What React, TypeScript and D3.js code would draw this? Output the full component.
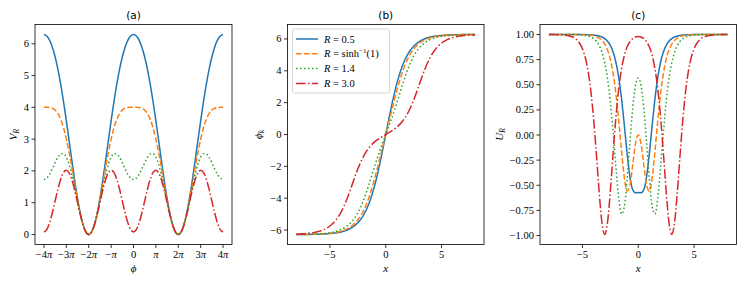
import * as d3 from "d3";

// sample grids: phi in units of pi, x for the kink and its stability potential
const phiPi = d3.range(-4, 4.0001, 0.125);
const xKink = d3.range(-8, 8.0001, 0.5);
const xStab = d3.range(-8, 8.0001, 0.25);

const colors = ["#1f77b4", "#ff7f0e", "#2ca02c", "#d62728"];
const dashes = ["", "5.55 2.4", "1.5 2.475", "9.6 2.4 1.5 2.4"];
const legendValues = ["0.5", "sinh", "1.4", "3.0"];

// (a) V_R(phi)
const vR05 = [
  6.292, 6.247, 6.115, 5.893, 5.584, 5.189, 4.714, 4.17, 3.573, 2.943, 2.307, 1.693, 1.135, 0.662, 0.302, 0.077, 0,
  0.077, 0.302, 0.662, 1.135, 1.693, 2.307, 2.943, 3.573, 4.17, 4.714, 5.189, 5.584, 5.893, 6.115, 6.247, 6.292,
  6.247, 6.115, 5.893, 5.584, 5.189, 4.714, 4.17, 3.573, 2.943, 2.307, 1.693, 1.135, 0.662, 0.302, 0.077, 0,
  0.077, 0.302, 0.662, 1.135, 1.693, 2.307, 2.943, 3.573, 4.17, 4.714, 5.189, 5.584, 5.893, 6.115, 6.247, 6.292,
];
const vRs1 = [
  4.0, 4.0, 3.994, 3.972, 3.914, 3.802, 3.619, 3.352, 3.0, 2.572, 2.088, 1.58, 1.086, 0.646, 0.299, 0.077, 0,
  0.077, 0.299, 0.646, 1.086, 1.58, 2.088, 2.572, 3.0, 3.352, 3.619, 3.802, 3.914, 3.972, 3.994, 4.0, 4.0,
  4.0, 3.994, 3.972, 3.914, 3.802, 3.619, 3.352, 3.0, 2.572, 2.088, 1.58, 1.086, 0.646, 0.299, 0.077, 0,
  0.077, 0.299, 0.646, 1.086, 1.58, 2.088, 2.572, 3.0, 3.352, 3.619, 3.802, 3.914, 3.972, 3.994, 4.0, 4.0,
];
const vR14 = [
  1.729, 1.772, 1.893, 2.067, 2.26, 2.429, 2.534, 2.541, 2.432, 2.204, 1.872, 1.468, 1.037, 0.63, 0.295, 0.076, 0,
  0.076, 0.295, 0.63, 1.037, 1.468, 1.872, 2.204, 2.432, 2.541, 2.534, 2.429, 2.26, 2.067, 1.893, 1.772, 1.729,
  1.772, 1.893, 2.067, 2.26, 2.429, 2.534, 2.541, 2.432, 2.204, 1.872, 1.468, 1.037, 0.63, 0.295, 0.076, 0,
  0.076, 0.295, 0.63, 1.037, 1.468, 1.872, 2.204, 2.432, 2.541, 2.534, 2.429, 2.26, 2.067, 1.893, 1.772, 1.729,
];
const vR3 = [
  0.079, 0.154, 0.366, 0.684, 1.058, 1.43, 1.745, 1.952, 2.02, 1.937, 1.715, 1.387, 1.002, 0.618, 0.293, 0.076, 0,
  0.076, 0.293, 0.618, 1.002, 1.387, 1.715, 1.937, 2.02, 1.952, 1.745, 1.43, 1.058, 0.684, 0.366, 0.154, 0.079,
  0.154, 0.366, 0.684, 1.058, 1.43, 1.745, 1.952, 2.02, 1.937, 1.715, 1.387, 1.002, 0.618, 0.293, 0.076, 0,
  0.076, 0.293, 0.618, 1.002, 1.387, 1.715, 1.937, 2.02, 1.952, 1.745, 1.43, 1.058, 0.684, 0.366, 0.154, 0.079,
];

// (b) kink profiles phi_k(x)
const pR05 = [
  -6.28, -6.278, -6.275, -6.27, -6.261, -6.246, -6.222, -6.183, -6.118, -6.011, -5.835, -5.546, -5.077, -4.335, -3.224, -1.731,
  0, 1.731, 3.224, 4.335, 5.077, 5.546, 5.835, 6.011, 6.118, 6.183, 6.222, 6.246, 6.261, 6.27, 6.275, 6.278, 6.28,
];
const pRs1 = [
  -6.279, -6.277, -6.273, -6.266, -6.255, -6.237, -6.207, -6.158, -6.076, -5.942, -5.722, -5.365, -4.796, -3.938, -2.773, -1.412,
  0, 1.412, 2.773, 3.938, 4.796, 5.365, 5.722, 5.942, 6.076, 6.158, 6.207, 6.237, 6.255, 6.266, 6.273, 6.277, 6.279,
];
const pR14 = [
  -6.277, -6.274, -6.268, -6.257, -6.241, -6.213, -6.167, -6.092, -5.969, -5.766, -5.437, -4.917, -4.142, -3.121, -2.0, -0.951,
  0, 0.951, 2.0, 3.121, 4.142, 4.917, 5.437, 5.766, 5.969, 6.092, 6.167, 6.213, 6.241, 6.257, 6.268, 6.274, 6.277,
];
const pR3 = [
  -6.256, -6.239, -6.21, -6.162, -6.084, -5.955, -5.744, -5.403, -4.869, -4.096, -3.132, -2.164, -1.383, -0.834, -0.465, -0.207,
  0, 0.207, 0.465, 0.834, 1.383, 2.164, 3.132, 4.096, 4.869, 5.403, 5.744, 5.955, 6.084, 6.162, 6.21, 6.239, 6.256,
];

// (c) stability potential U_R(x)
const uR05 = [
  1, 1, 1, 1, 1, 1, 1, 1, 1, 1, 1, 1, 0.999, 0.999, 0.998, 0.997, 0.994, 0.991, 0.985, 0.975, 0.959, 0.933, 0.892, 0.826,
  0.724, 0.573, 0.363, 0.1, -0.18, -0.414, -0.544, -0.575,
  -0.573,
  -0.575, -0.544, -0.414, -0.18, 0.1, 0.363, 0.573, 0.724, 0.826, 0.892, 0.933, 0.959, 0.975, 0.985, 0.991, 0.994, 0.997,
  0.998, 0.999, 0.999, 1, 1, 1, 1, 1, 1, 1, 1, 1, 1, 1, 1,
];
const uRs1 = [
  1, 1, 1, 1, 1, 1, 1, 1, 1, 1, 0.999, 0.999, 0.998, 0.997, 0.995, 0.992, 0.987, 0.978, 0.964, 0.941, 0.904, 0.845,
  0.752, 0.611, 0.41, 0.145, -0.156, -0.423, -0.558, -0.503, -0.301, -0.089,
  0,
  -0.089, -0.301, -0.503, -0.558, -0.423, -0.156, 0.145, 0.41, 0.611, 0.752, 0.845, 0.904, 0.941, 0.964, 0.978, 0.987,
  0.992, 0.995, 0.997, 0.998, 0.999, 0.999, 1, 1, 1, 1, 1, 1, 1, 1, 1, 1,
];
const uR14 = [
  1, 1, 1, 1, 1, 1, 1, 1, 0.999, 0.999, 0.998, 0.997, 0.994, 0.991, 0.985, 0.975, 0.959, 0.933, 0.89, 0.823, 0.717, 0.557,
  0.327, 0.025, -0.32, -0.627, -0.786, -0.717, -0.443, -0.075, 0.263, 0.489,
  0.568,
  0.489, 0.263, -0.075, -0.443, -0.717, -0.786, -0.627, -0.32, 0.025, 0.327, 0.557, 0.717, 0.823, 0.89, 0.933, 0.959,
  0.975, 0.985, 0.991, 0.994, 0.997, 0.998, 0.999, 0.999, 1, 1, 1, 1, 1, 1, 1, 1,
];
const uR3 = [
  1, 0.999, 0.999, 0.998, 0.997, 0.996, 0.993, 0.988, 0.98, 0.968, 0.947, 0.913, 0.859, 0.773, 0.64, 0.441, 0.162,
  -0.19, -0.568, -0.873, -0.99, -0.868, -0.559, -0.177, 0.177, 0.457, 0.656, 0.79, 0.875, 0.928, 0.959, 0.975,
  0.98,
  0.975, 0.959, 0.928, 0.875, 0.79, 0.656, 0.457, 0.177, -0.177, -0.559, -0.868, -0.99, -0.873, -0.568, -0.19, 0.162,
  0.441, 0.64, 0.773, 0.859, 0.913, 0.947, 0.968, 0.98, 0.988, 0.993, 0.996, 0.997, 0.998, 0.999, 0.999, 1,
];

const piTicks = [-4, -3, -2, -1, 0, 1, 2, 3, 4];
const piTickLabels = ["−4π", "−3π", "−2π", "−π", "0", "π", "2π", "3π", "4π"];
const vTicks = [0, 1, 2, 3, 4, 5, 6];
const xTicks = [-5, 0, 5];
const phiTicks = [-6, -4, -2, 0, 2, 4, 6];
const uTicks = [-1, -0.75, -0.5, -0.25, 0, 0.25, 0.5, 0.75, 1];

const TOP = 24.5;
const BOTTOM = 244.5;
const SERIF = "'Liberation Serif', serif";
const FS = 10.5;

const minus = (s: string) => s.replace("-", "−");

function pad(ext: number[]) {
  const d = (ext[1] - ext[0]) * 0.05;
  return [ext[0] - d, ext[1] + d];
}

function PiLabel({ s }: { s: string }) {
  const parts = s.split("π");
  if (parts.length === 1) return <>{s}</>;
  return (
    <>
      {parts[0]}
      <tspan fontStyle="italic">π</tspan>
    </>
  );
}

function Panel(props: any) {
  const { left, right, title, xs, ys, xTicks, xFmt, yTicks, yFmt, xLabel, yLabel, yLabelX, children } = props;
  const allY = ys.flat();
  const x = d3.scaleLinear().domain(pad(d3.extent(xs) as number[])).range([left, right]);
  const y = d3.scaleLinear().domain(pad(d3.extent(allY) as number[])).range([BOTTOM, TOP]);
  const line = d3
    .line<number>()
    .x((_, i) => x(xs[i]))
    .y((d) => y(d))
    .curve(d3.curveMonotoneX);
  const cx = (left + right) / 2;
  const cy = (TOP + BOTTOM) / 2;
  return (
    <g>
      <text x={cx} y={18.7} textAnchor="middle" fontFamily="'DejaVu Sans', sans-serif" fontSize={10.5}>
        {title}
      </text>
      {ys.map((s: number[], i: number) => (
        <path
          key={i}
          d={line(s) || ""}
          fill="none"
          stroke={colors[i]}
          strokeWidth={1.5}
          strokeDasharray={dashes[i] || undefined}
        />
      ))}
      <rect x={left} y={TOP} width={right - left} height={BOTTOM - TOP} fill="none" stroke="#000" strokeWidth={0.8} />
      {xTicks.map((t: number, i: number) => (
        <g key={i}>
          <line x1={x(t)} x2={x(t)} y1={BOTTOM} y2={BOTTOM + 3.5} stroke="#000" strokeWidth={0.8} />
          <text x={x(t)} y={BOTTOM + 13} textAnchor="middle" fontFamily={SERIF} fontSize={FS}>
            {xFmt(t, i)}
          </text>
        </g>
      ))}
      {yTicks.map((t: number, i: number) => (
        <g key={i}>
          <line x1={left - 3.5} x2={left} y1={y(t)} y2={y(t)} stroke="#000" strokeWidth={0.8} />
          <text x={left - 6} y={y(t) + 3.5} textAnchor="end" fontFamily={SERIF} fontSize={FS}>
            {yFmt(t)}
          </text>
        </g>
      ))}
      <text x={cx} y={271.5} textAnchor="middle" fontFamily={SERIF} fontStyle="italic" fontSize={11}>
        {xLabel}
      </text>
      <text
        transform={`translate(${yLabelX},${cy}) rotate(-90)`}
        textAnchor="middle"
        fontFamily={SERIF}
        fontStyle="italic"
        fontSize={11}
      >
        {yLabel}
      </text>
      {children}
    </g>
  );
}

function Legend({ left }: { left: number }) {
  const x0 = left + 5;
  const y0 = TOP + 4.5;
  return (
    <g>
      <rect x={x0} y={y0} width={97} height={64} rx={2} fill="#fff" fillOpacity={0.8} stroke="#ccc" strokeWidth={0.8} />
      {legendValues.map((v, i) => {
        const yy = y0 + 10 + i * 14.8;
        return (
          <g key={i}>
            <line
              x1={x0 + 3.5}
              x2={x0 + 25.5}
              y1={yy}
              y2={yy}
              stroke={colors[i]}
              strokeWidth={1.5}
              strokeDasharray={dashes[i] || undefined}
            />
            <text x={x0 + 31.5} y={yy + 3.6} fontFamily={SERIF} fontSize={FS}>
              <tspan fontStyle="italic">R</tspan>
              {v === "sinh" ? (
                <>
                  <tspan> = sinh</tspan>
                  <tspan dy={-4} fontSize={7}>−1</tspan>
                  <tspan dy={4}>(1)</tspan>
                </>
              ) : (
                <tspan> = {v}</tspan>
              )}
            </text>
          </g>
        );
      })}
    </g>
  );
}

export default function App() {
  const phi = phiPi.map((k) => k * Math.PI);
  return (
    <svg width={747} height={285} style={{ position: "absolute", left: 0, top: 0, background: "#fff" }}>
      <Panel
        left={35}
        right={232}
        title="(a)"
        xs={phi}
        ys={[vR05, vRs1, vR14, vR3]}
        xTicks={piTicks.map((k) => k * Math.PI)}
        xFmt={(_: number, i: number) => <PiLabel s={piTickLabels[i]} />}
        yTicks={vTicks}
        yFmt={(t: number) => String(t)}
        xLabel="ϕ"
        yLabel={
          <>
            V<tspan fontSize={7.5} dy={2}>R</tspan>
          </>
        }
        yLabelX={16.5}
      />
      <Panel
        left={287.5}
        right={484}
        title="(b)"
        xs={xKink}
        ys={[pR05, pRs1, pR14, pR3]}
        xTicks={xTicks}
        xFmt={(t: number) => minus(String(t))}
        yTicks={phiTicks}
        yFmt={(t: number) => minus(String(t))}
        xLabel="x"
        yLabel={
          <>
            ϕ<tspan fontSize={7.5} dy={2}>k</tspan>
          </>
        }
        yLabelX={262}
      >
        <Legend left={287.5} />
      </Panel>
      <Panel
        left={540}
        right={736.5}
        title="(c)"
        xs={xStab}
        ys={[uR05, uRs1, uR14, uR3]}
        xTicks={xTicks}
        xFmt={(t: number) => minus(String(t))}
        yTicks={uTicks}
        yFmt={(t: number) => minus(t.toFixed(2))}
        xLabel="x"
        yLabel={
          <>
            U<tspan fontSize={7.5} dy={2}>R</tspan>
          </>
        }
        yLabelX={503}
      />
    </svg>
  );
}
